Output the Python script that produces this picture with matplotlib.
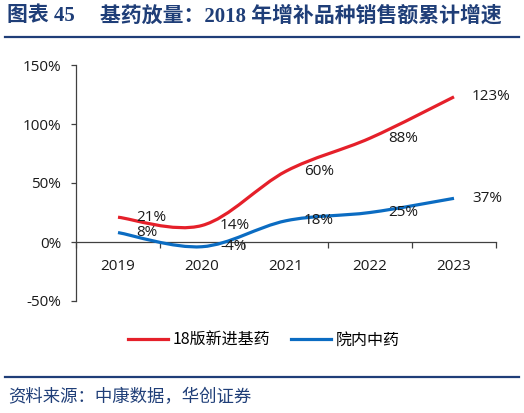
import matplotlib
matplotlib.use("Agg")
import matplotlib.pyplot as plt
from matplotlib.path import Path
from matplotlib.patches import PathPatch
from matplotlib.lines import Line2D
import numpy as np

plt.rcParams['font.family'] = ['Open Sans', 'Noto Sans CJK SC', 'DejaVu Sans']

years = ['2019', '2020', '2021', '2022', '2023']
jiyao = [21, 14, 60, 88, 123]      # 18版新进基药
zhongyao = [8, -4, 18, 25, 37]     # 院内中药
series_names = ['18版新进基药', '院内中药']
yticks = [-50, 0, 50, 100, 150]

RED = '#E5202A'
BLUE = '#0B6CC2'
NAVY = '#1F3E78'
TXT = '#1a1a1a'


def smooth_path(xs, ys):
    # excel style smoothed line: cubic bezier through every point
    pts = np.column_stack([xs, ys]).astype(float)
    n = len(pts)
    verts = [pts[0]]
    codes = [Path.MOVETO]
    for i in range(n - 1):
        p_prev = pts[i - 1] if i > 0 else pts[i]
        p_next = pts[i + 2] if i + 2 < n else pts[i + 1]
        c1 = pts[i] + (pts[i + 1] - p_prev) / 6
        c2 = pts[i + 1] - (p_next - pts[i]) / 6
        verts += [c1, c2, pts[i + 1]]
        codes += [Path.CURVE4] * 3
    return Path(verts, codes)


W, H = 524, 413
fig = plt.figure(figsize=(W / 100, H / 100), dpi=100)

ax = fig.add_axes([76 / W, (H - 301) / H, (496 - 76) / W, (301 - 65) / H])
ax.set_xlim(-0.5, len(years) - 0.5)
ax.set_ylim(-50, 150)

x = np.arange(len(years))
for vals, col in [(jiyao, RED), (zhongyao, BLUE)]:
    ax.add_patch(PathPatch(smooth_path(x, vals), facecolor='none', edgecolor=col,
                           lw=2.3, capstyle='butt', zorder=3))
    for xi, v in zip(x, vals):
        ax.annotate(f'{v}%', (xi, v), xytext=(13, 0), textcoords='offset points',
                    ha='left', va='center', fontsize=11, color=TXT)

for s in ['top', 'right']:
    ax.spines[s].set_visible(False)
ax.spines['bottom'].set_position(('data', 0))
for s in ['left', 'bottom']:
    ax.spines[s].set_color('#404040')
    ax.spines[s].set_linewidth(0.9)

ax.set_yticks(yticks)
ax.set_yticklabels([f'{t}%' for t in yticks])
ax.set_xticks(x)
ax.set_xticklabels(years)
ax.set_xticks(np.arange(-0.5, len(years)), minor=True)
ax.tick_params(axis='x', which='major', length=0, pad=12, labelsize=11, colors=TXT)
ax.tick_params(axis='x', which='minor', length=4, width=0.9, color='#404040', direction='out')
ax.tick_params(axis='y', length=3.5, width=0.9, color='#404040', pad=7, labelsize=11,
               labelcolor=TXT)

handles = [Line2D([], [], color=RED, lw=2.3), Line2D([], [], color=BLUE, lw=2.3)]
fig.legend(handles, series_names, loc='center', bbox_to_anchor=(264 / W, (H - 340) / H),
           ncol=2, frameon=False, handlelength=2.5, handletextpad=0.3,
           columnspacing=1.3, prop={'family': ['Noto Sans CJK SC'], 'size': 11.5})

# title and frame lines
title_font = ['Liberation Serif', 'Noto Sans CJK SC']
fig.text(7 / W, (H - 16) / H, '图表 45', fontsize=15, fontweight='bold', color=NAVY,
         va='center', ha='left', family=title_font)
fig.text(100 / W, (H - 16) / H, '基药放量：2018 年增补品种销售额累计增速', fontsize=15,
         fontweight='bold', color=NAVY, va='center', ha='left', family=title_font)
fig.add_artist(Line2D([5 / W, 519 / W], [(H - 37) / H] * 2, color=NAVY, lw=1.6))
fig.add_artist(Line2D([5 / W, 519 / W], [(H - 377) / H] * 2, color=NAVY, lw=1.6))
fig.text(8 / W, (H - 397) / H, '资料来源：中康数据，华创证券', fontsize=12.5,
         color=NAVY, va='center', ha='left', family=['Noto Sans CJK SC'])

fig.savefig('out.png', dpi=100)
